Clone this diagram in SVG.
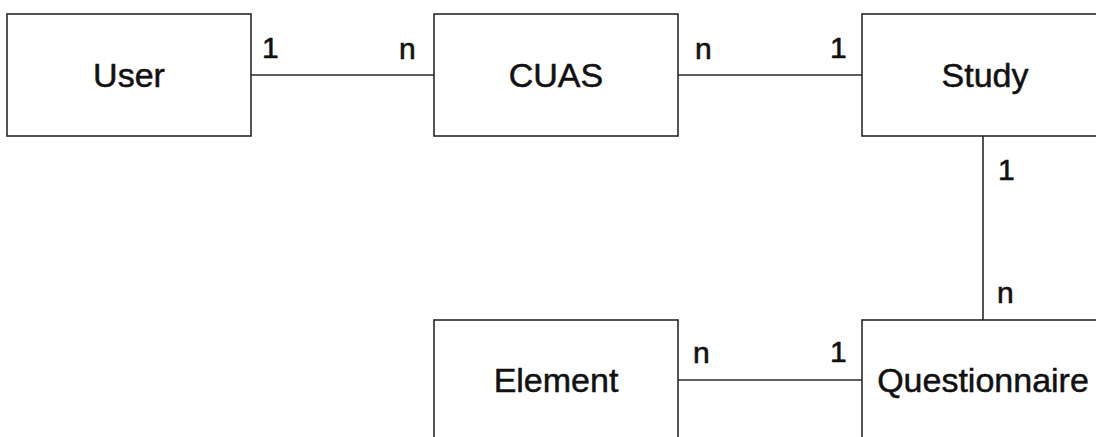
<svg xmlns="http://www.w3.org/2000/svg" width="1096" height="437" viewBox="0 0 1096 437">
<style>
.box{fill:#fff;stroke:#2a2a2a;stroke-width:1.6}
.name{font-family:"Liberation Sans",Arial,sans-serif;font-size:34px;fill:#111;stroke:#111;stroke-width:0.5;text-anchor:middle}
.lbl{font-family:"Liberation Sans",Arial,sans-serif;font-size:30px;fill:#111;stroke:#111;stroke-width:0.6}
.conn{stroke:#2a2a2a;stroke-width:1.6;fill:none}
</style>
<rect width="1096" height="437" fill="#fff"/>
<g id="connectors">
<line class="conn" x1="251" y1="75" x2="434" y2="75"/>
<line class="conn" x1="678" y1="75" x2="862" y2="75"/>
<line class="conn" x1="983" y1="136" x2="983" y2="320"/>
<line class="conn" x1="678" y1="380" x2="862" y2="380"/>
<text class="lbl" x="262" y="58">1</text>
<text class="lbl" x="399" y="59">n</text>
<text class="lbl" x="695" y="59">n</text>
<text class="lbl" x="830" y="58">1</text>
<text class="lbl" x="998" y="180">1</text>
<text class="lbl" x="997" y="303">n</text>
<text class="lbl" x="693" y="363">n</text>
<text class="lbl" x="830" y="362">1</text>
</g>
<g id="user">
<rect class="box" x="7" y="14" width="244" height="122"/>
<text class="name" x="129" y="87">User</text>
</g>
<g id="cuas">
<rect class="box" x="434" y="14" width="244" height="122"/>
<text class="name" x="556" y="87">CUAS</text>
</g>
<g id="study">
<rect class="box" x="862" y="14" width="246" height="122"/>
<text class="name" x="985" y="87">Study</text>
</g>
<g id="element">
<rect class="box" x="434" y="320" width="244" height="122"/>
<text class="name" x="556" y="392">Element</text>
</g>
<g id="questionnaire">
<rect class="box" x="862" y="320" width="246" height="122"/>
<text class="name" x="983" y="392">Questionnaire</text>
</g>
</svg>
